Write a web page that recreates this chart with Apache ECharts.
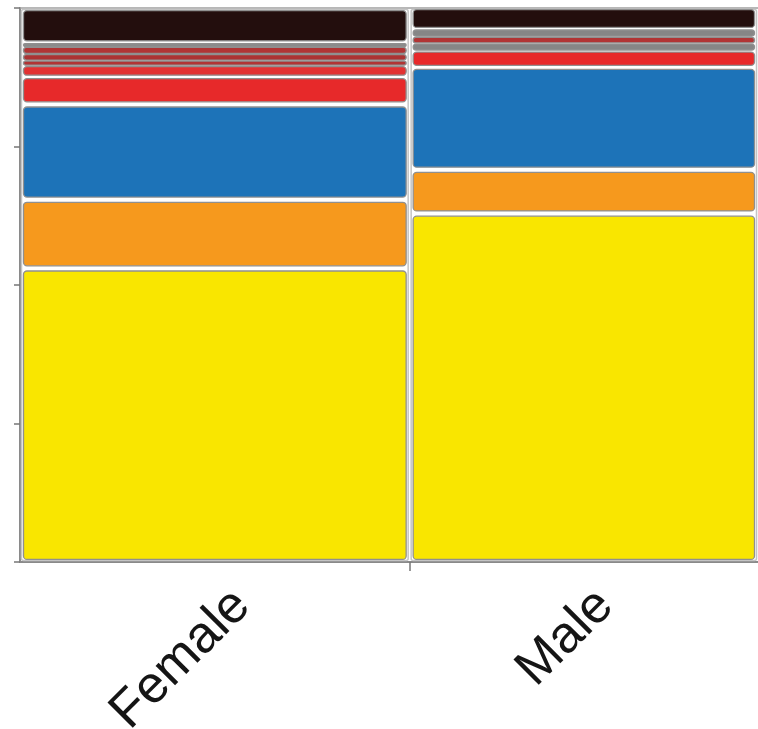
<!DOCTYPE html>
<html>
<head>
<meta charset="utf-8">
<script src="https://cdn.jsdelivr.net/npm/echarts@6/dist/echarts.min.js"></script>
<style>
html,body{margin:0;padding:0;background:#fff;}
#chart{width:758px;height:729px;}
</style>
</head>
<body>
<div id="chart"></div>
<script>
// Column categories and their share of the total (mosaic widths)
const genders = ['Female', 'Male'];
const genderShare = [0.528, 0.472];

// Fill levels, bottom to top, and their proportions within each column [Female, Male]
const levelNames = ['L1', 'L2', 'L3', 'L4', 'L5', 'L6', 'L7', 'L8', 'L9', 'L10', 'L11', 'L12'];
const levelColors = ['#f9e600', '#f6991d', '#1d73b8', '#e7292a', '#e23232', '#868686',
                     '#b13434', '#868686', '#ac3333', '#b03535', '#8a8a8a', '#230e0d'];
const L1 = [0.530, 0.629];
const L2 = [0.124, 0.079];
const L3 = [0.172, 0.186];
const L4 = [0.051, 0.029];
const L5 = [0.019, 0.000];
const L6 = [0.000, 0.013];
const L7 = [0.009, 0.012];
const L8 = [0.000, 0.0135];
const L9 = [0.012, 0.000];
const L10 = [0.013, 0.000];
const L11 = [0.006, 0.000];
const L12 = [0.064, 0.039];
const levelValues = [L1, L2, L3, L4, L5, L6, L7, L8, L9, L10, L11, L12];

// y-axis ticks (no labels shown)
const yTicks = [0, 0.25, 0.5, 0.75, 1];

// build mosaic cells
const cells = [];
const columns = [];
let xStart = 0;
genders.forEach((g, gi) => {
  const xEnd = xStart + genderShare[gi];
  columns.push([xStart, xEnd, 0, 1]);
  let yStart = 0;
  levelValues.forEach((vals, li) => {
    const v = vals[gi];
    if (v > 0) {
      cells.push([xStart, xEnd, yStart, yStart + v, li]);
      yStart += v;
    }
  });
  xStart = xEnd;
});

// label positions (column centres, nudged right like the reference)
const labelNudge = [0.037, 0.029];
const labelPos = [];
let acc = 0;
genderShare.forEach((s, i) => { labelPos.push(acc + s / 2 + labelNudge[i]); acc += s; });
const boundaryTicks = [genderShare[0]];

const chart = echarts.init(document.getElementById('chart'), null, {renderer: 'canvas'});
chart.setOption({
  animation: false,
  backgroundColor: '#ffffff',
  grid: {left: 20, right: 0, top: 8, bottom: 167, containLabel: false, outerBoundsMode: 'none'},
  xAxis: [{
    type: 'value', min: 0, max: 1, position: 'bottom',
    axisLine: {show: true, lineStyle: {color: '#8a8a8a', width: 2}},
    axisTick: {show: true, customValues: boundaryTicks, length: 9, lineStyle: {color: '#777', width: 1.5}},
    axisLabel: {
      show: true, customValues: labelPos, rotate: 45, margin: 36,
      fontSize: 52, fontFamily: 'Liberation Sans, Arial, sans-serif', color: '#151515',
      formatter: (v) => {
        let best = 0, d = Infinity;
        labelPos.forEach((p, i) => { if (Math.abs(p - v) < d) { d = Math.abs(p - v); best = i; } });
        return genders[best];
      }
    },
    splitLine: {show: false}
  }, {
    type: 'value', min: 0, max: 1, position: 'top',
    axisLine: {show: true, lineStyle: {color: '#a0a0a0', width: 1.5}},
    axisTick: {show: false}, axisLabel: {show: false}, splitLine: {show: false}
  }],
  yAxis: {
    type: 'value', min: 0, max: 1, interval: 0.25,
    axisLine: {show: true, lineStyle: {color: '#8a8a8a', width: 2}},
    axisTick: {show: true, customValues: yTicks, length: 6, lineStyle: {color: '#777', width: 1.5}},
    axisLabel: {show: false},
    splitLine: {show: false}
  },
  series: [{
    type: 'custom',
    name: 'frame',
    data: columns,
    encode: {x: [0, 1], y: [2, 3]},
    renderItem: (params, api) => {
      const p0 = api.coord([api.value(0), api.value(2)]);
      const p1 = api.coord([api.value(1), api.value(3)]);
      return {
        type: 'rect',
        shape: {x: p0[0] + 1.5, y: p1[1] + 1.5, width: p1[0] - p0[0] - 3, height: p0[1] - p1[1] - 3, r: 2},
        style: {fill: '#ffffff', stroke: '#c4c4c4', lineWidth: 1.5}
      };
    }
  }, {
    type: 'custom',
    name: 'mosaic',
    data: cells,
    encode: {x: [0, 1], y: [2, 3]},
    renderItem: (params, api) => {
      const p0 = api.coord([api.value(0), api.value(2)]);
      const p1 = api.coord([api.value(1), api.value(3)]);
      const li = api.value(4);
      const h = p0[1] - p1[1];
      const gy = Math.min(2.6, h * 0.09);
      const gx = 3.5;
      const hh = h - 2 * gy;
      return {
        type: 'rect',
        shape: {x: p0[0] + gx, y: p1[1] + gy, width: p1[0] - p0[0] - 2 * gx, height: hh, r: Math.min(3.5, hh / 2)},
        style: {fill: levelColors[li], stroke: '#909090', lineWidth: 1.3}
      };
    }
  }]
});
</script>
</body>
</html>
